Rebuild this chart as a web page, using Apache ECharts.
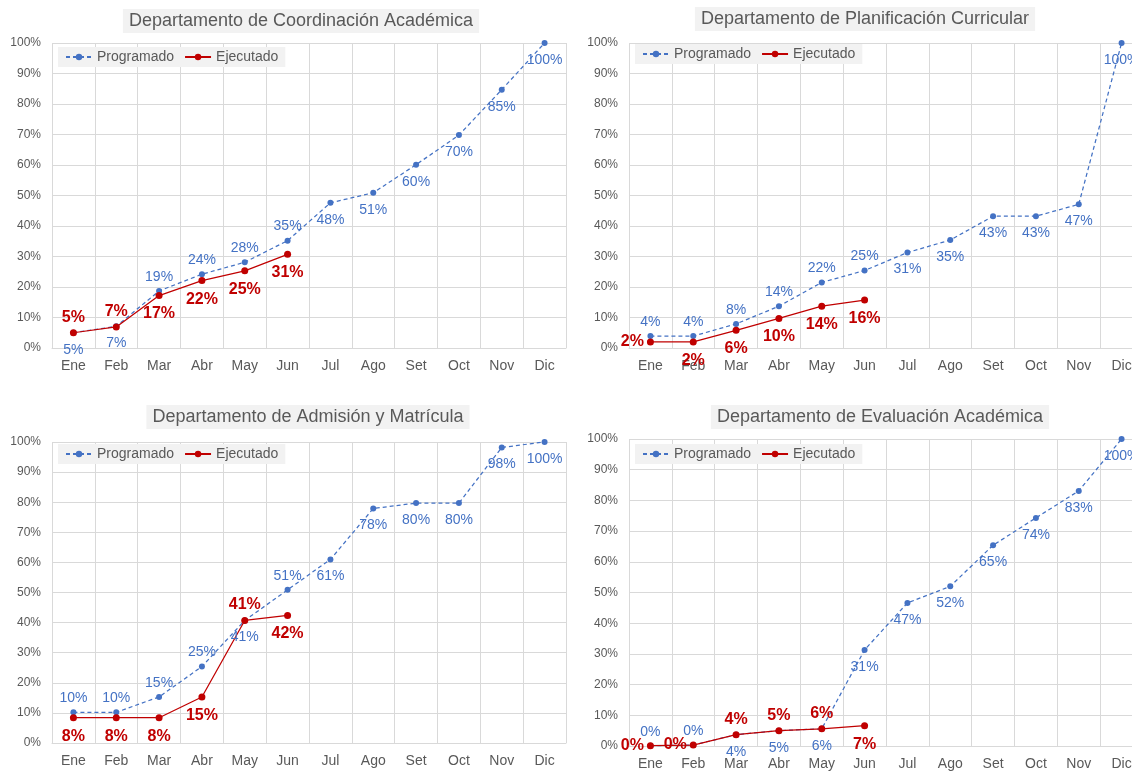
<!DOCTYPE html>
<html>
<head>
<meta charset="utf-8">
<script src="https://cdn.jsdelivr.net/npm/echarts@6/dist/echarts.min.js"></script>
<style>
  html, body { margin: 0; padding: 0; background: #fff; }
  #chart { width: 1132px; height: 771px; }
</style>
</head>
<body>
<div id="chart"></div>
<script>
const meses = ['Ene', 'Feb', 'Mar', 'Abr', 'May', 'Jun', 'Jul', 'Ago', 'Set', 'Oct', 'Nov', 'Dic']

// Departamento de Coordinación Académica
const coordProgramado = [5.0, 7.1, 18.7, 24.2, 28.1, 35.2, 47.6, 50.9, 60.1, 69.8, 84.7, 100]
const coordEjecutado = [5.0, 6.9, 17.2, 22.1, 25.3, 30.7]

// Departamento de Planificación Curricular
const planProgramado = [3.9, 3.9, 7.9, 13.7, 21.5, 25.4, 31.3, 35.4, 43.2, 43.2, 47.1, 100]
const planEjecutado = [2.0, 2.0, 5.8, 9.7, 13.7, 15.7]

// Departamento de Admisión y Matrícula
const admProgramado = [10.2, 10.2, 15.3, 25.4, 40.7, 50.9, 61.0, 77.9, 79.7, 79.7, 98.2, 100]
const admEjecutado = [8.4, 8.4, 8.4, 15.3, 40.7, 42.4]

// Departamento de Evaluación Académica
const evalProgramado = [0.1, 0.3, 3.7, 5.0, 5.6, 31.3, 46.6, 52.0, 65.4, 74.3, 83.1, 100]
const evalEjecutado = [0.1, 0.3, 3.7, 5.0, 5.6, 6.6]

// posiciones de etiquetas (estilo, no datos)
const B = 'bottom', T = 'top', L = 'left'
const coordProgPos = [B, B, T, T, T, T, B, B, B, B, B, B]
const coordEjePos = [T, T, B, B, B, B]
const planProgPos = [T, T, T, T, T, T, B, B, B, B, B, B]
const planEjePos = [L, B, B, B, B, B]
const admProgPos = [T, T, T, T, B, T, B, B, B, B, B, B]
const admEjePos = [B, B, B, B, T, B]
const evalProgPos = [T, T, B, B, B, B, B, B, B, B, B, B]
const evalEjePos = [L, L, T, T, T, B]

const AZUL = '#4472C4'
const ROJO = '#C00000'
const GRIS = '#595959'
const LINEA = '#D9D9D9'
const FUENTE = '"Liberation Sans", Arial, sans-serif'

const paneles = [
  { titulo: 'Departamento de Coordinación Académica', tx: 301, ty: 9,
    grid: { left: 52, top: 43, width: 514, height: 305 }, legend: { left: 58, top: 47 },
    prog: coordProgramado, eje: coordEjecutado, progPos: coordProgPos, ejePos: coordEjePos },
  { titulo: 'Departamento de Planificación Curricular', tx: 865, ty: 7,
    grid: { left: 629, top: 43, width: 514, height: 305 }, legend: { left: 635, top: 44 },
    prog: planProgramado, eje: planEjecutado, progPos: planProgPos, ejePos: planEjePos },
  { titulo: 'Departamento de Admisión y Matrícula', tx: 308, ty: 405,
    grid: { left: 52, top: 442, width: 514, height: 301 }, legend: { left: 58, top: 444 },
    prog: admProgramado, eje: admEjecutado, progPos: admProgPos, ejePos: admEjePos },
  { titulo: 'Departamento de Evaluación Académica', tx: 880, ty: 405,
    grid: { left: 629, top: 439, width: 514, height: 307 }, legend: { left: 635, top: 444 },
    prog: evalProgramado, eje: evalEjecutado, progPos: evalProgPos, ejePos: evalEjePos }
]

const pct = (p) => Math.round(p.value) + '%'
// las etiquetas de abajo quedan algo más separadas del punto
const etiqueta = (pos) => ({ position: pos, distance: pos === 'bottom' ? 7 : pos === 'left' ? 3 : 4 })

const option = {
  animation: false,
  textStyle: { fontFamily: FUENTE },
  title: [],
  legend: [],
  grid: [],
  xAxis: [],
  yAxis: [],
  series: []
}

paneles.forEach((p, i) => {
  option.title.push({
    text: p.titulo,
    left: p.tx - 6,
    top: p.ty,
    textAlign: 'center',
    padding: [3, 6],
    backgroundColor: '#F2F2F2',
    textStyle: { color: GRIS, fontSize: 18, fontWeight: 'normal', fontFamily: FUENTE }
  })
  option.legend.push({
    left: p.legend.left,
    top: p.legend.top,
    padding: [3, 7],
    itemGap: 10,
    itemWidth: 26,
    itemHeight: 8,
    backgroundColor: '#F2F2F2',
    data: ['Programado', 'Ejecutado'],
    textStyle: { color: GRIS, fontSize: 14, fontFamily: FUENTE }
  })
  // el panel derecho sigue más allá del borde de la imagen
  option.grid.push(Object.assign({ containLabel: false, outerBoundsMode: 'none' }, p.grid))
  option.xAxis.push({
    type: 'category',
    gridIndex: i,
    data: meses,
    axisLine: { lineStyle: { color: LINEA } },
    axisTick: { show: false },
    axisLabel: { color: GRIS, fontSize: 14, margin: 11, interval: 0 },
    splitLine: { show: true, interval: 0, lineStyle: { color: LINEA } }
  })
  option.yAxis.push({
    type: 'value',
    gridIndex: i,
    min: 0,
    max: 100,
    interval: 10,
    axisLine: { show: false },
    axisTick: { show: false },
    axisLabel: { color: GRIS, fontSize: 12, margin: 11, formatter: '{value}%' },
    splitLine: { lineStyle: { color: LINEA } }
  })
  option.series.push({
    name: 'Programado',
    type: 'line',
    xAxisIndex: i,
    yAxisIndex: i,
    data: p.prog.map((v, k) => ({ value: v, label: etiqueta(p.progPos[k]) })),
    symbol: 'circle',
    symbolSize: 6,
    itemStyle: { color: AZUL },
    lineStyle: { color: AZUL, width: 1.25, type: [4, 3] },
    label: { show: true, color: AZUL, fontSize: 14, formatter: pct }
  })
  option.series.push({
    name: 'Ejecutado',
    type: 'line',
    xAxisIndex: i,
    yAxisIndex: i,
    data: p.eje.map((v, k) => ({ value: v, label: etiqueta(p.ejePos[k]) })),
    symbol: 'circle',
    symbolSize: 7,
    itemStyle: { color: ROJO },
    lineStyle: { color: ROJO, width: 1.25 },
    label: { show: true, color: ROJO, fontSize: 16, fontWeight: 'bold', formatter: pct }
  })
})

const chart = echarts.init(document.getElementById('chart'))
chart.setOption(option)
</script>
</body>
</html>
